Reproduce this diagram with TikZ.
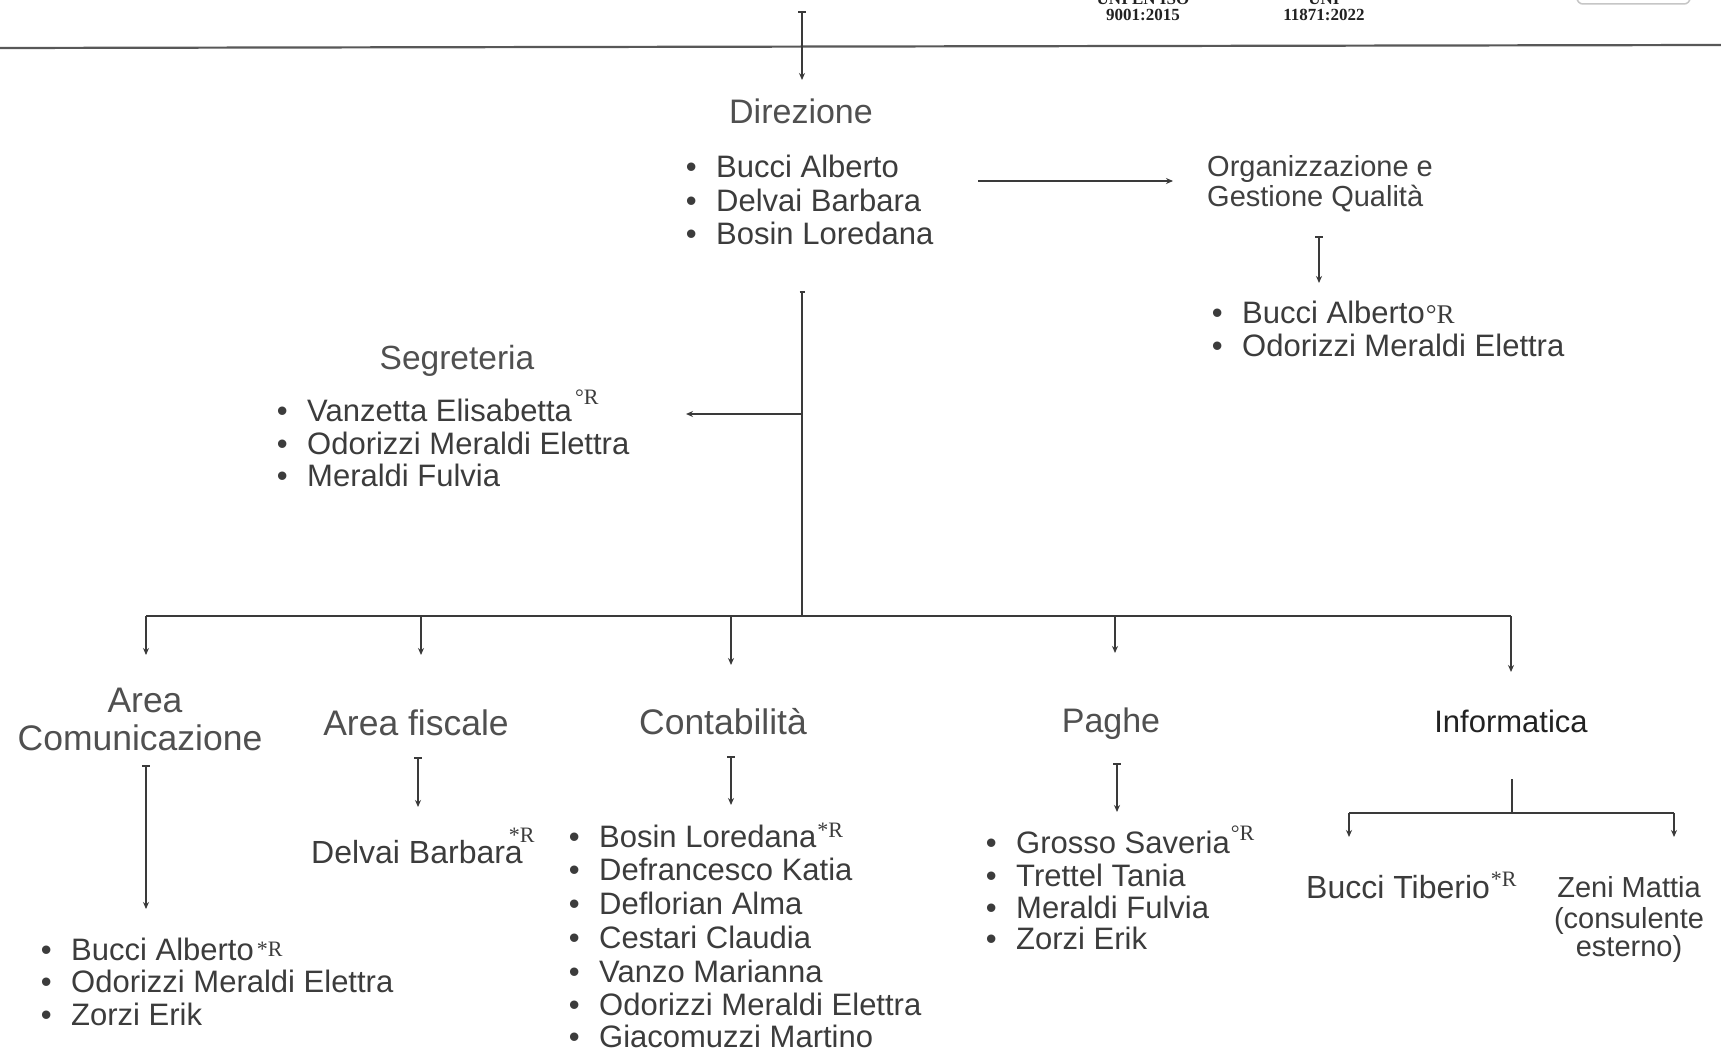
\documentclass[tikz,border=0pt]{standalone}
\usepackage{fontspec}
\setmainfont{Liberation Sans}
\newfontfamily\serifR{Liberation Serif}
\usetikzlibrary{arrows.meta}
\definecolor{linec}{HTML}{3A3A3A}
\definecolor{itemc}{HTML}{3C3C3C}
\definecolor{ttlc}{HTML}{505050}
\definecolor{orgc}{HTML}{404040}
\definecolor{isoc}{HTML}{222222}
\newcommand\bul{\llap{•\hspace{19.5pt}}}
\newcommand\rmk[3]{\hspace{#1}\raisebox{#2}{\serifR\fontsize{22pt}{22pt}\selectfont #3R}}
\newcommand\rmkbig[3]{\hspace{#1}\raisebox{#2}{\serifR\fontsize{27pt}{27pt}\selectfont #3R}}
\begin{document}
\begin{tikzpicture}[x=1pt,y=-1pt,
  ln/.style={draw=linec,line width=1.6pt},
  tip/.style={-{Stealth[length=7pt,width=6pt]}},
  bartip/.style={{Bar[width=8pt]}-{Stealth[length=7pt,width=6pt]}},
  item/.style={anchor=west,inner sep=0pt,text=itemc,font=\fontsize{31pt}{31pt}\selectfont,text height=22pt,text depth=0pt},
  ttl/.style={inner sep=0pt,text=ttlc,font=\fontsize{#1pt}{#1pt}\selectfont,text height=#1pt*0.72,text depth=0pt},
  iso/.style={anchor=base,inner sep=0pt,text=isoc,font=\serifR\bfseries\fontsize{17pt}{17pt}\selectfont}
]
\useasboundingbox (0,0) rectangle (1721,1048);
\fill[white] (0,0) rectangle (1721,1048);
\clip (0,0) rectangle (1721,1048);

% header
\node[iso] (isoA) at (1143,5) {UNI EN ISO};
\node[iso] (isoB) at (1143,21) {9001:2015};
\node[iso] (uniA) at (1324,5) {UNI};
\node[iso] (uniB) at (1324,21) {11871:2022};
\draw[gray!45,line width=1.5pt,rounded corners=6pt] (1577,-30) rectangle (1690,4);
\coordinate (hL) at (0,48);
\coordinate (hR) at (1721,45);
\draw[draw=linec!85,line width=2.2pt] (hL) -- (hR);

% Direzione
\coordinate (topS) at (802,11);
\coordinate (topE) at (802,80);
\draw[ln,bartip] (topS) -- (topE);
\node[ttl=34] (dir) at (801,111) {Direzione};
\node[item] (d1) at (716,167) {\bul Bucci Alberto};
\node[item] (d2) at (716,201) {\bul Delvai Barbara};
\node[item] (d3) at (716,234) {\bul Bosin Loredana};

% Organizzazione
\coordinate (oaS) at (978,181);
\coordinate (oaE) at (1173,181);
\draw[ln,tip] (oaS) -- (oaE);
\node[ttl=29,anchor=west,text=orgc] (o1) at (1207,166) {Organizzazione e};
\node[ttl=29,anchor=west,text=orgc] (o2) at (1207,196) {Gestione Qualità};
\coordinate (odS) at (1319,236);
\coordinate (odE) at (1319,283);
\draw[ln,bartip] (odS) -- (odE);
\node[item] (ol1) at (1242,313) {\bul Bucci Alberto\rmkbig{1pt}{0pt}{°}};
\node[item] (ol2) at (1242,345) {\bul Odorizzi Meraldi Elettra};

% main vertical and Segreteria
\coordinate (mvS) at (802,291);
\coordinate (busC) at (802,616);
\draw[ln,{Bar[width=5pt]}-] (mvS) -- (busC);
\coordinate (segJ) at (802,414);
\coordinate (segE) at (686,414);
\draw[ln,tip] (segJ) -- (segE);
\node[ttl=33.5] (seg) at (457,357) {Segreteria};
\node[item] (s1) at (307,410) {\bul Vanzetta Elisabetta\rmk{3pt}{17pt}{°}};
\node[item] (s2) at (307,443) {\bul Odorizzi Meraldi Elettra};
\node[item] (s3) at (307,475) {\bul Meraldi Fulvia};

% bus
\coordinate (b1) at (146,616);
\coordinate (b2) at (421,616);
\coordinate (b3) at (731,616);
\coordinate (b4) at (1115,616);
\coordinate (b5) at (1511,616);
\coordinate (e1) at (146,655);
\coordinate (e2) at (421,655);
\coordinate (e3) at (731,665);
\coordinate (e4) at (1115,653);
\coordinate (e5) at (1511,672);
\draw[ln] (b1) -- (b5);
\foreach \i in {1,...,5} {\draw[ln,tip] (b\i) -- (e\i);}

% titles
\node[ttl=35.5] (ac1) at (145,700) {Area};
\node[ttl=35.5] (ac2) at (140,738) {Comunicazione};
\node[ttl=35.5] (af) at (416,723) {Area fiscale};
\node[ttl=35.5] (co) at (723,722) {Contabilità};
\node[ttl=34] (pa) at (1111,720) {Paghe};
\node[ttl=31,text=isoc] (inf) at (1511,721) {Informatica};

% sub arrows
\coordinate (acS) at (146,765); \coordinate (acE) at (146,909);
\draw[ln,bartip] (acS) -- (acE);
\coordinate (afS) at (418,757); \coordinate (afE) at (418,807);
\draw[ln,bartip] (afS) -- (afE);
\coordinate (coS) at (731,756); \coordinate (coE) at (731,805);
\draw[ln,bartip] (coS) -- (coE);
\coordinate (paS) at (1117,763); \coordinate (paE) at (1117,812);
\draw[ln,bartip] (paS) -- (paE);
\coordinate (inS) at (1512,779); \coordinate (inJ) at (1512,813);
\coordinate (inL) at (1349,813); \coordinate (inR) at (1674,813);
\coordinate (inLE) at (1349,837); \coordinate (inRE) at (1674,837);
\draw[ln] (inS) -- (inJ);
\draw[ln] (inL) -- (inR);
\draw[ln,tip] (inL) -- (inLE);
\draw[ln,tip] (inR) -- (inRE);

% lists
\node[item] (a1) at (71,949) {\bul Bucci Alberto\rmk{3pt}{4pt}{*}};
\node[item] (a2) at (71,981) {\bul Odorizzi Meraldi Elettra};
\node[item] (a3) at (71,1014) {\bul Zorzi Erik};

\node[item,font=\fontsize{32pt}{32pt}\selectfont] (fb) at (311,852) {Delvai Barbara\rmk{-14pt}{21pt}{*}};

\node[item] (c1) at (599,836) {\bul Bosin Loredana\rmk{1pt}{10pt}{*}};
\node[item] (c2) at (599,869) {\bul Defrancesco Katia};
\node[item] (c3) at (599,903) {\bul Deflorian Alma};
\node[item] (c4) at (599,937) {\bul Cestari Claudia};
\node[item] (c5) at (599,971) {\bul Vanzo Marianna};
\node[item] (c6) at (599,1004) {\bul Odorizzi Meraldi Elettra};
\node[item] (c7) at (599,1036) {\bul Giacomuzzi Martino};

\node[item] (p1) at (1016,842) {\bul Grosso Saveria\rmk{1pt}{13pt}{°}};
\node[item] (p2) at (1016,875) {\bul Trettel Tania};
\node[item] (p3) at (1016,907) {\bul Meraldi Fulvia};
\node[item] (p4) at (1016,938) {\bul Zorzi Erik};

\node[item,font=\fontsize{32pt}{32pt}\selectfont] (bt) at (1306,887) {Bucci Tiberio\rmk{1pt}{12pt}{*}};
\node[item,anchor=center,font=\fontsize{29pt}{29pt}\selectfont,text height=21pt] (z1) at (1629,887) {Zeni Mattia};
\node[item,anchor=center,font=\fontsize{29pt}{29pt}\selectfont,text height=21pt] (z2) at (1629,918) {(consulente};
\node[item,anchor=center,font=\fontsize{29pt}{29pt}\selectfont,text height=21pt] (z3) at (1629,946) {esterno)};
\end{tikzpicture}
\end{document}
